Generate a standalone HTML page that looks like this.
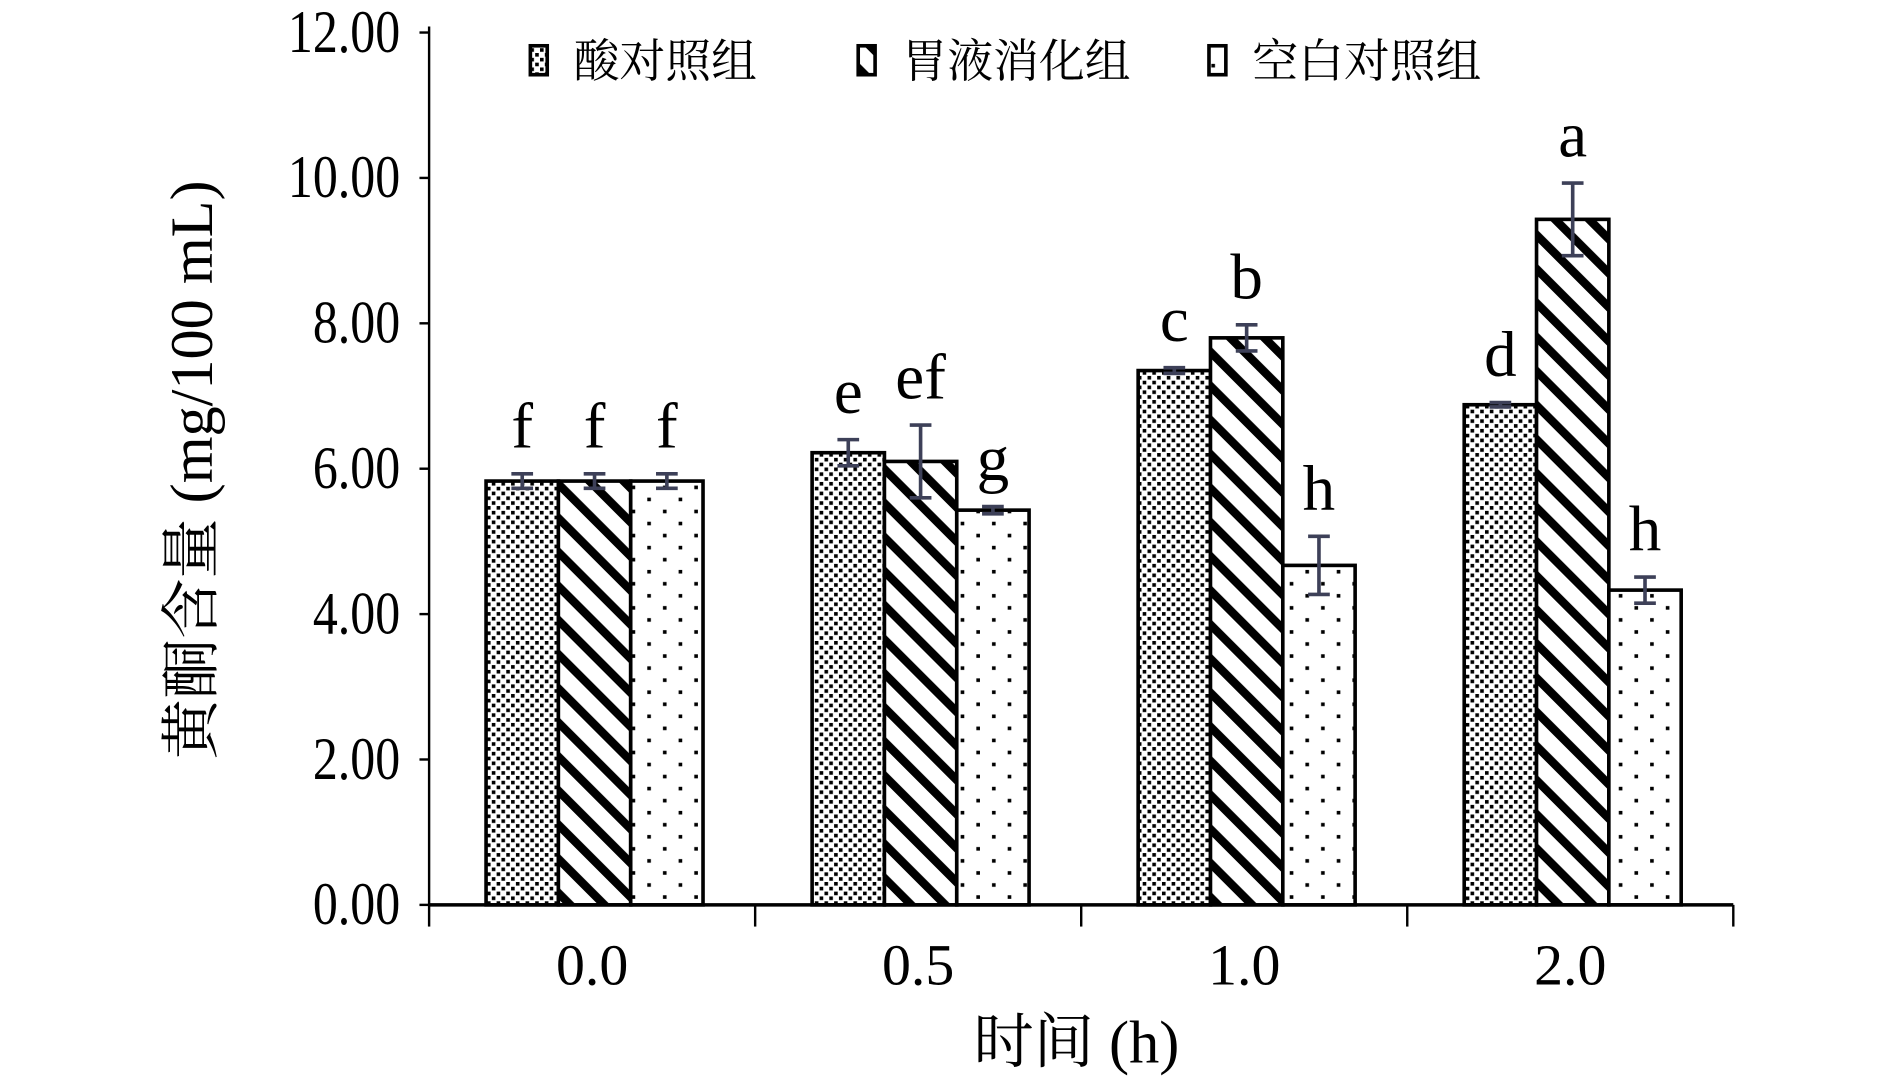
<!DOCTYPE html>
<html><head><meta charset="utf-8"><style>html,body{margin:0;padding:0;background:#fff}svg{display:block}</style></head>
<body>
<svg id="chart" width="1890" height="1082" viewBox="0 0 1568 898" preserveAspectRatio="none" xmlns="http://www.w3.org/2000/svg" font-family="'Liberation Serif','Noto Serif CJK SC',serif">
<defs>
<pattern id="pDense" width="8" height="8" patternUnits="userSpaceOnUse"><rect width="8" height="8" fill="#fff"/><rect x="0" y="0" width="3" height="3" fill="#000"/><rect x="4" y="4" width="3" height="3" fill="#000"/></pattern>
<pattern id="pStripe" width="20" height="20" patternUnits="userSpaceOnUse" patternTransform="rotate(-45)"><rect width="20" height="20" fill="#fff"/><rect x="0" y="0" width="7" height="20" fill="#000"/></pattern>
<pattern id="pSparse" width="26" height="20" patternUnits="userSpaceOnUse"><rect width="26" height="20" fill="#fff"/><rect x="4" y="3" width="3" height="3" fill="#000"/><rect x="17" y="13" width="3" height="3" fill="#000"/></pattern>
</defs>
<g id="plot"></g>
</svg>
<script>
const categories = ['0.0','0.5','1.0','2.0'];
const seriesNames = ['酸对照组','胃液消化组','空白对照组'];
const acidVals = [5.83, 6.22, 7.35, 6.88];
const gastricVals = [5.83, 6.10, 7.80, 9.43];
const blankVals = [5.83, 5.43, 4.67, 4.33];
const acidErr = [0.10, 0.18, 0.04, 0.03];
const gastricErr = [0.10, 0.50, 0.18, 0.50];
const blankErr = [0.10, 0.05, 0.40, 0.18];
const acidLetters = ['f','e','c','d'];
const gastricLetters = ['f','ef','b','a'];
const blankLetters = ['f','g','h','h'];
const yTicks = [0,2,4,6,8,10,12];
const yTickLabels = ['0.00','2.00','4.00','6.00','8.00','10.00','12.00'];

const NS='http://www.w3.org/2000/svg';
const g=document.getElementById('plot');
function mk(t,a,parent){const e=document.createElementNS(NS,t);for(const k in a)e.setAttribute(k,a[k]);(parent||g).appendChild(e);return e;}
const X0=356,X1=1438,Y0=751,Y1=27;
const y=v=>Y0-(v/12)*(Y0-Y1);
const gw=(X1-X0)/categories.length;
const bw=60;
const x=(ci,si)=>X0+gw*ci+gw/2-bw*1.5+si*bw+2;
const fills=['url(#pDense)','url(#pStripe)','url(#pSparse)'];
const vals=[acidVals,gastricVals,blankVals];
const errs=[acidErr,gastricErr,blankErr];
const lets=[acidLetters,gastricLetters,blankLetters];

let e=mk('line',{x1:X0,y1:Y1-5,x2:X0,y2:Y0,stroke:'#000','stroke-width':2});


yTicks.forEach((t,i)=>{
  let l=mk('line',{x1:X0-8,y1:y(t),x2:X0,y2:y(t),stroke:'#000','stroke-width':2});
  
  
  let tx=mk('text',{x:X0-24,y:(y(t)+16)/1.08,'text-anchor':'end','font-size':46,transform:`translate(${X0-24},0) scale(0.9,1.08) translate(${-(X0-24)},0)`});
  tx.textContent=yTickLabels[i];
  
  
});
categories.forEach((c,ci)=>{
  for(let si=0;si<3;si++){
    const v=vals[si][ci],bx=x(ci,si),by=y(v);
    let r=mk('rect',{x:bx,y:by,width:bw,height:Y0-by,fill:fills[si],stroke:'#000','stroke-width':3});
    
    
    const cx=bx+bw/2,eh=y(v+errs[si][ci]),el=y(v-errs[si][ci]);
    let eb=mk('path',{d:`M${cx},${eh}V${el}M${cx-9},${eh}H${cx+9}M${cx-9},${el}H${cx+9}`,stroke:'#3d4058','stroke-width':3,fill:'none'});
    
    
    let lt=mk('text',{x:cx,y:eh-22,'text-anchor':'middle','font-size':54});
    lt.textContent=lets[si][ci];
    
    
  }
});
e=mk('line',{x1:X0,y1:Y0,x2:X1,y2:Y0,stroke:'#000','stroke-width':3});


for(let i=0;i<=categories.length;i++){
  let l=mk('line',{x1:X0+gw*i,y1:Y0,x2:X0+gw*i,y2:Y0+18,stroke:'#000','stroke-width':2});
  
  
}
categories.forEach((c,ci)=>{
  let tx=mk('text',{x:X0+gw*ci+gw/2,y:Y0+66,'text-anchor':'middle','font-size':48});
  tx.textContent=c;
  
  
});
let xt=mk('text',{x:893,y:882,'text-anchor':'middle','font-size':50});
xt.textContent='时间 (h)';


let yt=mk('text',{x:0,y:0,'text-anchor':'middle','font-size':50,transform:'translate(176,390) rotate(-90)'});
yt.textContent='黄酮含量 (mg/100 mL)';


const legX=[440,712,1003];
seriesNames.forEach((n,i)=>{
  let s=mk('rect',{x:legX[i],y:38,width:14,height:24,fill:fills[i],stroke:'#000','stroke-width':3});
  
  
  let t=mk('text',{x:legX[i]+36,y:64,'font-size':38,'font-family':"'Noto Serif CJK SC',serif"});
  t.textContent=n;
  
  
});
</script>
</body></html>
